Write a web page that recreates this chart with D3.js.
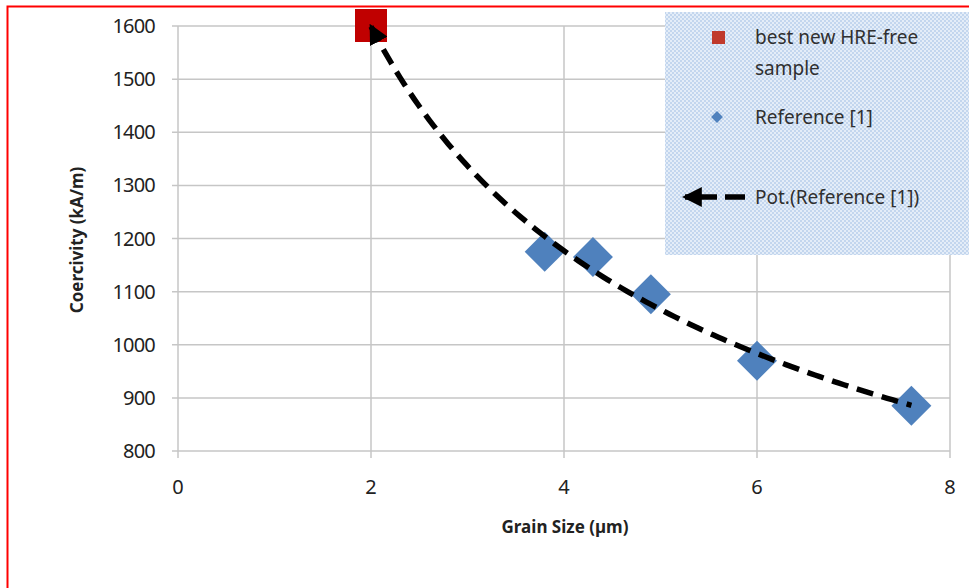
<!DOCTYPE html>
<meta charset="utf-8">
<script src="https://d3js.org/d3.v7.js"></script>
<style>
  body { margin: 0; background: #fff; }
  text { font-family: "Noto Sans", "Open Sans", sans-serif; fill: #222; }
</style>
<svg id="chart" width="969" height="588"></svg>
<script>

// Data
const bestX = [2];
const bestY = [1600];
const refX = [3.8, 4.3, 4.9, 6.0, 7.6];
const refY = [1175, 1165, 1095, 970, 885];
const xTicks = [0, 2, 4, 6, 8];
const yTicks = [800, 900, 1000, 1100, 1200, 1300, 1400, 1500, 1600];
const legendLabels = ["best new HRE-free", "sample", "Reference [1]", "Pot.(Reference [1])"];

const svg = d3.select("#chart"),
  width = +svg.attr("width"),
  height = +svg.attr("height");

const margin = {left: 178, top: 26, right: 19, bottom: 137};

const x = d3.scaleLinear().domain([0, 8]).range([margin.left, width - margin.right]);
const y = d3.scaleLinear().domain([800, 1600]).range([height - margin.bottom, margin.top]);

const defs = svg.append("defs");

// dotted fill of the legend box
const pat = defs.append("pattern")
  .attr("id", "dots")
  .attr("width", 4).attr("height", 4)
  .attr("patternUnits", "userSpaceOnUse");
pat.append("rect").attr("width", 4).attr("height", 4).attr("fill", "#e4edf8");
pat.append("rect").attr("width", 2).attr("height", 2).attr("fill", "#c3d6ee");
pat.append("rect").attr("x", 2).attr("y", 2).attr("width", 2).attr("height", 2).attr("fill", "#c3d6ee");

defs.append("marker")
  .attr("id", "arrow")
  .attr("viewBox", "0 0 10 10")
  .attr("refX", 8.5).attr("refY", 5)
  .attr("markerWidth", 3.6).attr("markerHeight", 3.6)
  .attr("orient", "auto-start-reverse")
  .append("path")
  .attr("d", "M0,0 L10,5 L0,10 Z")
  .attr("fill", "#000");

// gridlines
svg.append("g")
  .selectAll("line")
  .data(yTicks)
  .join("line")
    .attr("x1", x(0) - 6).attr("x2", x(8))
    .attr("y1", d => y(d)).attr("y2", d => y(d))
    .attr("stroke", "#c6c6c6").attr("stroke-width", 1.5);

svg.append("g")
  .selectAll("line")
  .data(xTicks)
  .join("line")
    .attr("x1", d => x(d)).attr("x2", d => x(d))
    .attr("y1", y(1600)).attr("y2", y(800) + 7)
    .attr("stroke", "#c6c6c6").attr("stroke-width", 1.5);

// tick labels
svg.append("g")
  .selectAll("text")
  .data(yTicks)
  .join("text")
    .attr("x", 155)
    .attr("y", d => y(d) + 7)
    .attr("text-anchor", "end")
    .style("font-size", "20px")
    .style("letter-spacing", "-0.8px")
    .text(d => d);

svg.append("g")
  .selectAll("text")
  .data(xTicks)
  .join("text")
    .attr("x", d => x(d))
    .attr("y", y(800) + 43)
    .attr("text-anchor", "middle")
    .style("font-size", "20px")
    .text(d => d);

// axis titles
svg.append("text")
  .attr("x", 565).attr("y", 533)
  .attr("text-anchor", "middle")
  .style("font-size", "17px").style("font-weight", "bold")
  .text("Grain Size (µm)");

svg.append("text")
  .attr("transform", "translate(83,240) rotate(-90)")
  .attr("text-anchor", "middle")
  .style("font-size", "17px").style("font-weight", "bold")
  .text("Coercivity (kA/m)");

// legend box
svg.append("rect")
  .attr("x", 665).attr("y", 12)
  .attr("width", 320).attr("height", 243)
  .attr("fill", "url(#dots)");

// diamonds
const diamond = d3.symbol().type(d3.symbolSquare).size(800);
svg.append("g")
  .selectAll("path")
  .data(refX)
  .join("path")
    .attr("d", diamond)
    .attr("transform", (d, i) => `translate(${x(d)},${y(refY[i])}) rotate(45)`)
    .attr("fill", "#4f81bd");

// best sample
svg.append("g")
  .selectAll("rect")
  .data(bestX)
  .join("rect")
    .attr("x", d => x(d) - 16)
    .attr("y", (d, i) => y(bestY[i]) - 17)
    .attr("width", 32).attr("height", 33)
    .attr("fill", "#c00000");

// power trendline fitted to the reference points (least squares on logs)
const lx = refX.map(Math.log), ly = refY.map(Math.log);
const mx = d3.mean(lx), my = d3.mean(ly);
const b = d3.sum(lx, (v, i) => (v - mx) * (ly[i] - my)) / d3.sum(lx, v => (v - mx) ** 2);
const a = Math.exp(my - b * mx);
const trendX = d3.range(bestX[0], refX[refX.length - 1] + 1e-9, 0.05);

svg.append("path")
  .datum(trendX)
  .attr("d", d3.line().x(d => x(d)).y(d => y(a * Math.pow(d, b))))
  .attr("fill", "none")
  .attr("stroke", "#000")
  .attr("stroke-width", 5.5)
  .attr("stroke-dasharray", "17,9")
  .attr("marker-start", "url(#arrow)");

// legend contents
svg.append("rect")
  .attr("x", 712).attr("y", 31).attr("width", 13).attr("height", 13)
  .attr("fill", "#c0392b");
svg.append("path")
  .attr("d", d3.symbol().type(d3.symbolSquare).size(70))
  .attr("transform", "translate(717,117) rotate(45)")
  .attr("fill", "#4f81bd");
svg.append("line")
  .attr("x1", 745).attr("y1", 197).attr("x2", 685).attr("y2", 197)
  .attr("stroke", "#000").attr("stroke-width", 5.5)
  .attr("stroke-dasharray", "20,8")
  .attr("marker-end", "url(#arrow)");

const legendY = [44, 75, 124, 204];
svg.append("g")
  .selectAll("text")
  .data(legendLabels)
  .join("text")
    .attr("x", 755)
    .attr("y", (d, i) => legendY[i])
    .style("font-size", "19px")
    .style("fill", "#303030")
    .text(d => d);

// red frame
svg.append("rect")
  .attr("x", 7.5).attr("y", 6.5)
  .attr("width", 1200).attr("height", 1200)
  .attr("fill", "none")
  .attr("stroke", "#ff0000").attr("stroke-width", 2);

</script>
